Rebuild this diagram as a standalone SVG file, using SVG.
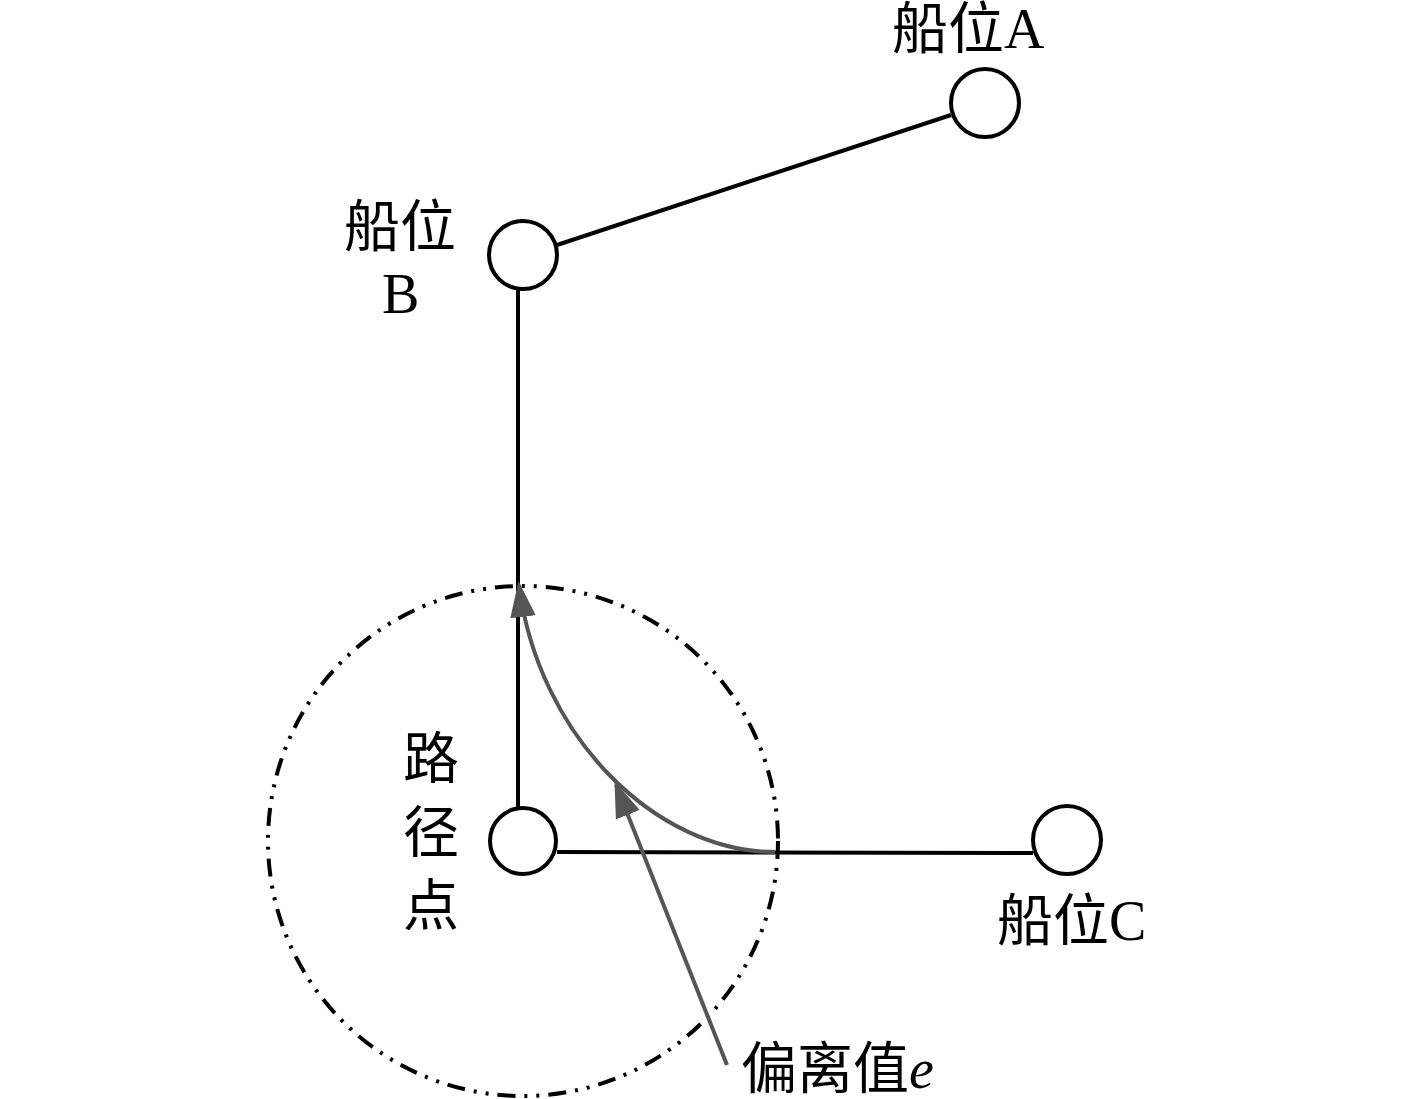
<svg xmlns="http://www.w3.org/2000/svg" width="1417" height="1099" viewBox="0 0 1417 1099">
<style>
.ln{stroke:#000;stroke-width:4;fill:none}
.nd{stroke:#000;stroke-width:4;fill:#fff}
.gr{stroke:#555;stroke-width:4;fill:none}
.t{font-family:"Liberation Serif","Noto Sans CJK SC",serif;font-size:56px;fill:#000}
</style>
<defs>
<marker id="ah" markerWidth="9" markerHeight="8" refX="8" refY="4" orient="auto" markerUnits="strokeWidth"><path d="M0,0.8 L9,4 L0,7.2 Z" fill="#555"/></marker>
</defs>
<rect width="1417" height="1099" fill="#fff"/>
<g id="connectors">
<line class="ln" x1="951" y1="115" x2="557" y2="245"/>
<line class="ln" x1="518" y1="289" x2="518" y2="808"/>
<line class="ln" x1="557" y1="852" x2="1033" y2="853"/>
<circle cx="523" cy="841" r="255" fill="none" stroke="#000" stroke-width="4" stroke-dasharray="18 9 3 9 3 9"/>
<path class="gr" d="M775,852 C655,852 538,735 519,585" marker-end="url(#ah)"/>
<line class="gr" x1="727" y1="1065" x2="616" y2="785" marker-end="url(#ah)"/>
</g>
<g id="nodeA"><circle class="nd" cx="985" cy="103" r="34"/><text class="t" x="892" y="48">船位A</text></g>
<g id="nodeB"><circle class="nd" cx="523" cy="255" r="34"/><text class="t" x="344" y="246">船位</text><text class="t" x="382" y="313">B</text></g>
<g id="nodeP"><circle class="nd" cx="523" cy="841" r="33"/><text class="t" x="403" y="778">路</text><text class="t" x="403" y="852">径</text><text class="t" x="403" y="925">点</text></g>
<g id="nodeC"><circle class="nd" cx="1067" cy="840" r="34"/><text class="t" x="997" y="940">船位C</text></g>
<g id="label"><text class="t" x="741" y="1088">偏离值<tspan font-style="italic">e</tspan></text></g>
</svg>
